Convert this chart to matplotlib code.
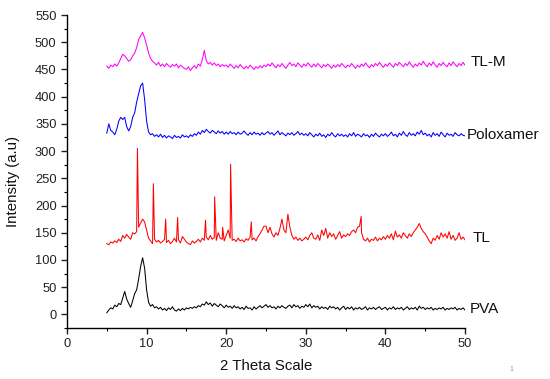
import numpy as np
import matplotlib
matplotlib.use("Agg")
import matplotlib.pyplot as plt
from matplotlib.ticker import MultipleLocator

plt.rcParams['font.family'] = ['Liberation Sans', 'DejaVu Sans']

# 2-theta grid, 5 to 50 deg in 0.25 deg steps
two_theta = np.arange(181) * 0.25 + 5.0

pva = [
    3, 8, 12, 10, 17, 14, 20, 18, 30, 42, 28, 20, 13, 25, 38, 45, 65, 88, 104, 85,
    45, 22, 15, 18, 12, 14, 10, 13, 8, 11, 7, 12, 9, 14, 8, 6, 10, 7, 11, 8,
    12, 10, 13, 11, 14, 12, 16, 14, 19, 17, 23, 18, 21, 15, 20, 17, 14, 19, 16, 12,
    17, 13, 15, 11, 16, 12, 14, 10, 13, 9, 15, 11, 12, 8, 14, 10, 13, 16, 12, 15,
    18, 13, 16, 12, 14, 10, 15, 12, 16, 13, 11, 15, 17, 12, 18, 14, 16, 11, 15, 13,
    18, 14, 19, 12, 16, 13, 15, 10, 14, 11, 13, 9, 15, 12, 14, 10, 13, 8, 12, 15,
    9, 13, 10, 14, 8, 12, 10, 13, 9, 11, 14, 8, 12, 10, 13, 9, 12, 14, 9, 11,
    13, 8, 12, 10, 14, 9, 12, 10, 13, 8, 11, 14, 9, 12, 10, 13, 8, 15, 11, 13,
    9, 12, 10, 13, 8, 11, 9, 12, 10, 13, 8, 11, 9, 12, 10, 13, 8, 11, 9, 12,
    8,
]

tl_base = [
    130, 128, 133, 131, 135, 132, 138, 134, 145, 140, 147, 142, 138, 150, 148, 152, 160, 168, 175, 170,
    155, 140, 135, 130, 138, 133, 136, 131, 134, 138, 132, 136, 130, 134, 140, 133, 137, 131, 143, 138,
    133, 130, 128, 135, 131, 134, 138, 133, 140, 136, 142, 137, 145, 138, 141, 136, 150, 140, 138, 135,
    145, 155, 140, 136, 138, 134, 140, 135, 137, 133, 139, 136, 142, 137, 140, 135, 143, 148, 155, 162,
    162, 150, 160, 148, 142, 150, 145, 158, 175, 155, 150, 184, 160, 145, 138, 142, 136, 140, 135, 138,
    142, 137, 145, 150, 140, 138, 146, 136, 155, 145, 158, 140, 150, 143, 148, 138, 145, 152, 140, 146,
    143, 148, 145, 152, 155, 150, 160, 162, 150, 138, 135, 140, 133, 138, 136, 142, 135, 140, 137, 143,
    138, 145, 140, 148, 137, 153, 142, 146, 140, 150, 145, 140, 148, 143, 150, 155, 160, 167, 158, 152,
    148, 142, 135, 130, 140, 136, 145, 138, 150, 142, 148, 140, 152, 138, 145, 136, 140, 150, 138, 142,
    137,
]
# sharp crystalline reflections of TL
tl_peak_2theta = [8.85, 10.85, 12.4, 13.9, 17.4, 18.55, 19.55, 20.55, 23.15, 36.95]
tl_peak_int = [305, 240, 175, 178, 173, 216, 160, 276, 170, 180]

poloxamer = [
    333, 350, 338, 335, 330, 340, 355, 362, 358, 362, 345, 337, 345, 362, 370, 390, 405, 420, 425, 395,
    355, 335, 330, 332, 327, 330, 326, 331, 325, 329, 324, 328, 326, 323, 329, 325, 327, 324, 330, 326,
    328, 325, 330, 327, 332, 329, 335, 331, 338, 334, 340, 336, 333, 338, 335, 332, 337, 333, 336, 331,
    335, 331, 336, 332, 334, 330, 335, 331, 333, 337, 332, 329, 334, 330, 335, 331, 333, 329, 334, 330,
    333, 336, 331, 334, 329, 333, 337, 330, 334, 331, 328, 333, 330, 334, 329, 332, 336, 330, 333, 329,
    332, 328, 334, 330, 326, 331, 328, 333, 327, 330, 325, 331, 328, 334, 329, 326, 332, 328, 331, 327,
    330, 326, 332, 328, 334, 327, 331, 329, 326, 332, 328, 330, 325, 331, 327, 333, 329, 326, 331, 328,
    332, 327, 330, 335, 328, 331, 326, 333, 329, 336, 330, 327, 334, 329, 332, 328, 335, 331, 338, 330,
    333, 328, 331, 326, 334, 329, 332, 327, 335, 330, 326, 333, 329, 331, 327, 334, 330, 328, 332, 329,
    328,
]

tlm = [
    456, 452, 458, 455, 460, 456, 462, 470, 478, 475, 470, 465, 468, 475, 480, 490, 505, 512, 518, 508,
    495, 480, 470, 465, 462, 458, 463, 456, 460, 455, 461, 457, 454, 459, 456, 460, 453, 458, 455, 452,
    450, 455, 448, 453, 457, 452, 460, 456, 468, 485, 466, 460, 463, 458, 462, 457, 460, 455, 459, 456,
    458, 454, 460, 456, 452, 457, 453, 459, 455, 451, 456, 452, 458, 454, 450, 455, 452, 457, 453, 458,
    455, 460, 456, 462, 457, 453, 459, 455, 461, 456, 452, 458, 463, 457, 460, 455, 462, 458, 454, 460,
    456, 462, 458, 454, 460, 455, 461, 457, 453, 459, 455, 460, 456, 452, 458, 454, 459, 455, 461, 457,
    453, 458, 455, 461, 456, 452, 458, 454, 460, 456, 462, 457, 453, 459, 455, 461, 457, 463, 458, 454,
    460, 456, 462, 458, 454, 461, 457, 463, 459, 455, 461, 457, 464, 458, 454, 460, 456, 462, 458, 465,
    459, 455, 462, 457, 464, 458, 454, 461, 457, 463, 458, 455, 462, 457, 464, 459, 455, 461, 457, 463,
    458,
]

series_names = ["TL-M", "Poloxamer", "TL", "PVA"]
series_colors = ["#FF00FF", "#0000FF", "#FF0000", "#000000"]

# merge TL baseline with sharp peaks
tl_x = np.concatenate([two_theta, tl_peak_2theta])
tl_y = np.concatenate([tl_base, tl_peak_int])
order = np.argsort(tl_x)
tl_x, tl_y = tl_x[order], tl_y[order]

fig = plt.figure(figsize=(5.5, 3.79), dpi=100)
ax = fig.add_axes([0.1218, 0.1346, 0.7237, 0.8258])

data = {
    "TL-M": (two_theta, tlm),
    "Poloxamer": (two_theta, poloxamer),
    "TL": (tl_x, tl_y),
    "PVA": (two_theta, pva),
}
label_pos = {"TL-M": (50.75, 463), "Poloxamer": (50.25, 329), "TL": (50.9, 140), "PVA": (50.6, 10)}

for name, col in zip(series_names, series_colors):
    x, y = data[name]
    ax.plot(x, y, color=col, lw=0.75)
    lx, ly = label_pos[name]
    ax.text(lx, ly, name, fontsize=11, ha='left', va='center', color='#111111', clip_on=False)

ax.set_xlim(0, 50)
ax.set_ylim(-25, 550)
ax.xaxis.set_major_locator(MultipleLocator(10))
ax.xaxis.set_minor_locator(MultipleLocator(5))
ax.yaxis.set_major_locator(MultipleLocator(50))
ax.yaxis.set_minor_locator(MultipleLocator(25))
ax.spines['top'].set_visible(False)
ax.spines['right'].set_visible(False)
for s in ['left', 'bottom']:
    ax.spines[s].set_linewidth(1.0)
ax.tick_params(which='major', direction='out', length=4, width=1.0, labelsize=9.3, colors='#222222')
ax.tick_params(which='minor', direction='out', length=2.5, width=0.8)

ax.set_xlabel("2 Theta Scale", fontsize=10.8, color='#111111')
ax.set_ylabel("Intensity (a.u)", fontsize=10.8, color='#111111')
ax.xaxis.set_label_coords(0.5, -0.098)
ax.yaxis.set_label_coords(-0.118, 0.468)

fig.text(0.927, 0.02, "1", fontsize=5, color='#999999')

fig.savefig("out.png", dpi=100)
